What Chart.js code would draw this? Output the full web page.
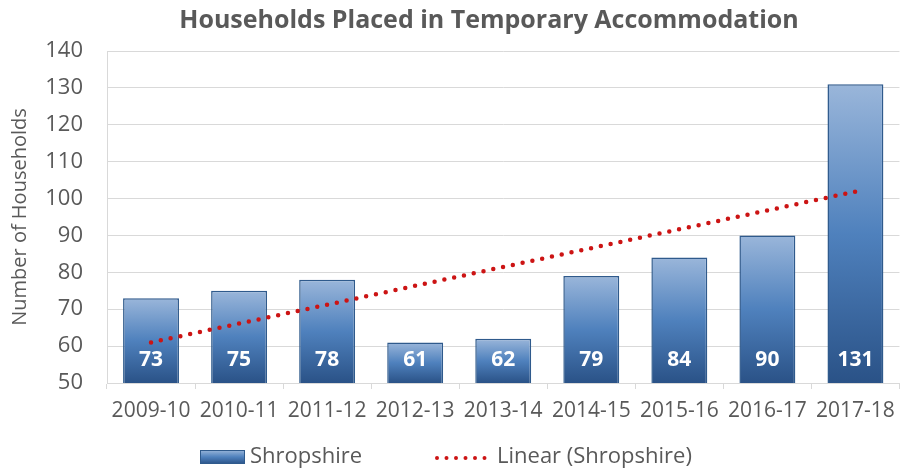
<!DOCTYPE html>
<html><head><meta charset="utf-8">
<script src="https://cdn.jsdelivr.net/npm/chart.js@4/dist/chart.umd.min.js"></script>
<style>html,body{margin:0;padding:0;background:#fff}#wrap{width:904px;height:472px}</style>
</head><body><div id="wrap"><canvas id="c" width="904" height="472"></canvas></div>
<script>
const categories = ['2009-10','2010-11','2011-12','2012-13','2013-14','2014-15','2015-16','2016-17','2017-18'];
const shropshire = [73, 75, 78, 61, 62, 79, 84, 90, 131];
const trendEnds = [61, null, null, null, null, null, null, null, 101.9];
const yTicks = [50, 60, 70, 80, 90, 100, 110, 120, 130, 140];
const titleText = 'Households Placed in Temporary Accommodation';
const yTitle = 'Number of Households';
const seriesName = 'Shropshire';
const trendName = 'Linear (Shropshire)';

const FONT = "'Open Sans', sans-serif";
const GREY = '#595959';

function barGradient(ctx, top, bottom) {
  const g = ctx.createLinearGradient(0, top, 0, bottom);
  g.addColorStop(0, '#9ab6da');
  g.addColorStop(0.5, '#4f81bd');
  g.addColorStop(1, '#2a5287');
  return g;
}

const extras = {
  id: 'extras',
  afterDatasetsDraw(chart) {
    const ctx = chart.ctx;
    const xs = chart.scales.x, ys = chart.scales.y;
    const base = ys.getPixelForValue(ys.min);
    ctx.save();
    ctx.fillStyle = '#ffffff';
    ctx.font = "bold 21px " + FONT;
    ctx.textAlign = 'center';
    ctx.textBaseline = 'middle';
    shropshire.forEach((v, i) => {
      ctx.fillText(String(v), xs.getPixelForValue(i), base - 23);
    });
    ctx.restore();
  },
  afterDraw(chart) {
    const ctx = chart.ctx;
    ctx.save();
    ctx.fillStyle = GREY;
    ctx.font = "bold 25px " + FONT;
    ctx.textAlign = 'center';
    ctx.textBaseline = 'middle';
    ctx.fillText(titleText, 489, 21);
    const ly = 457;
    ctx.fillStyle = barGradient(ctx, ly - 7, ly + 7);
    ctx.fillRect(200, ly - 7, 45, 14);
    ctx.strokeStyle = '#2f5a8c';
    ctx.lineWidth = 1;
    ctx.strokeRect(200.5, ly - 6.5, 44, 13);
    ctx.fillStyle = GREY;
    ctx.font = "22px " + FONT;
    ctx.textAlign = 'left';
    ctx.fillText(seriesName, 250, ly);
    ctx.strokeStyle = '#cc1414';
    ctx.lineWidth = 4;
    ctx.lineCap = 'round';
    ctx.setLineDash([0, 9.5]);
    ctx.beginPath();
    ctx.moveTo(437, ly + 1);
    ctx.lineTo(490, ly + 1);
    ctx.stroke();
    ctx.setLineDash([]);
    ctx.fillText(trendName, 497, ly);
    ctx.restore();
  }
};

new Chart(document.getElementById('c'), {
  data: {
    labels: categories,
    datasets: [
      {
        type: 'bar',
        label: seriesName,
        data: shropshire,
        backgroundColor: (c) => {
          const ch = c.chart;
          const ys = ch.scales && ch.scales.y;
          if (!ch.chartArea || !ys || c.raw === undefined) return '#4f81bd';
          return barGradient(ch.ctx, ys.getPixelForValue(c.raw), ys.getPixelForValue(ys.min));
        },
        borderColor: '#2f5a8c',
        borderWidth: 1.5,
        categoryPercentage: 1,
        barPercentage: 0.635,
        order: 2
      },
      {
        type: 'line',
        label: trendName,
        data: trendEnds,
        spanGaps: true,
        borderColor: '#cc1414',
        borderWidth: 4.5,
        borderCapStyle: 'round',
        borderDash: [0, 10],
        pointRadius: 0,
        fill: false,
        tension: 0,
        order: 1
      }
    ]
  },
  options: {
    responsive: false,
    animation: false,
    layout: { padding: { top: 51, right: 3, bottom: 39, left: 0 } },
    plugins: { legend: { display: false }, title: { display: false }, tooltip: { enabled: false } },
    scales: {
      x: {
        grid: { offset: true, drawOnChartArea: false, color: '#d9d9d9', tickLength: 6 },
        border: { color: '#d9d9d9' },
        ticks: { color: GREY, font: { family: FONT, size: 21 }, padding: 9, maxRotation: 0, autoSkip: false },
        afterFit: (s) => { s.height = 50; }
      },
      y: {
        min: 50, max: 140,
        afterBuildTicks: (s) => { s.ticks = yTicks.map(v => ({ value: v })); },
        grid: { color: '#d9d9d9', drawTicks: false },
        border: { color: '#d9d9d9' },
        ticks: { color: GREY, font: { family: FONT, size: 22 }, padding: 24 },
        title: { display: true, text: yTitle, color: GREY, font: { family: FONT, size: 20 }, padding: { top: 8, bottom: 0 } },
        afterFit: (s) => { s.width = 107; }
      }
    }
  },
  plugins: [extras]
});
</script>
</body></html>
